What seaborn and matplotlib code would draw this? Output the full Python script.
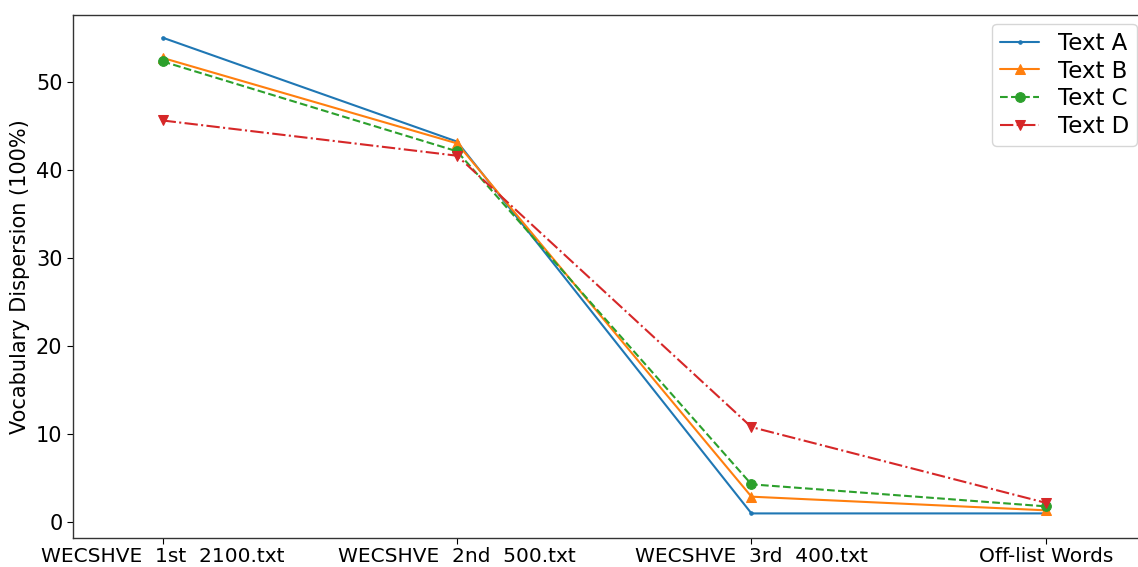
import matplotlib
matplotlib.use("Agg")
import matplotlib.pyplot as plt
import seaborn as sns
import pandas as pd

categories = ["WECSHVE  1st  2100.txt", "WECSHVE  2nd  500.txt", "WECSHVE  3rd  400.txt", "Off-list Words"]
text_a = [55.0, 43.2, 1.0, 1.0]
text_b = [52.7, 43.0, 2.9, 1.35]
text_c = [52.3, 42.1, 4.3, 1.8]
text_d = [45.6, 41.6, 10.8, 2.2]

series = [
    ("Text A", text_a, "#1f77b4", ".", "-", 5),
    ("Text B", text_b, "#ff7f0e", "^", "-", 7),
    ("Text C", text_c, "#2ca02c", "o", "--", 7),
    ("Text D", text_d, "#d62728", "v", "-.", 7),
]

sns.set_style("white")
plt.rcParams['font.family'] = ['DejaVu Sans']
plt.rcParams['text.color'] = 'black'
plt.rcParams['axes.labelcolor'] = 'black'
plt.rcParams['xtick.color'] = 'black'
plt.rcParams['ytick.color'] = 'black'

fig = plt.figure(figsize=(11.38, 5.67), dpi=100)
ax = fig.add_axes([0.064, 0.051, 0.943, 0.923])

x = list(range(len(categories)))
for name, vals, color, mk, ls, ms in series:
    df = pd.DataFrame({"x": x, "y": vals})
    sns.lineplot(data=df, x="x", y="y", ax=ax, color=color, marker=mk,
                 linestyle=ls, markersize=ms, markeredgecolor=color,
                 linewidth=1.5, label=name)

ax.set_xticks(x)
ax.set_xticklabels(categories, fontsize=14.5)
ax.set_xlim(-0.305, 3.34)
ax.set_ylim(-1.8, 57.6)
ax.set_yticks([0, 10, 20, 30, 40, 50])
ax.tick_params(axis='y', labelsize=15, left=True, length=4)
ax.tick_params(axis='x', bottom=True, length=4, pad=2.5)
ax.set_xlabel("")
ax.set_ylabel("Vocabulary Dispersion (100%)", fontsize=15)
for s in ax.spines.values():
    s.set_color("#333333")
    s.set_linewidth(1.0)
ax.legend(loc="upper right", fontsize=16.5, frameon=True, borderaxespad=0.4,
          handlelength=1.7, labelspacing=0.2, borderpad=0.35)

fig.savefig("out.png", dpi=100)
